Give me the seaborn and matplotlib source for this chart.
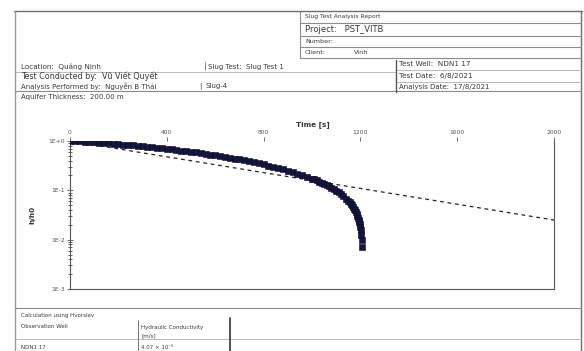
import numpy as np
import matplotlib
matplotlib.use("Agg")
import matplotlib.pyplot as plt
from matplotlib.lines import Line2D
from matplotlib.ticker import FixedLocator, LogLocator, NullFormatter
import seaborn as sns

# Slug test recovery record: elapsed time [s] and normalised head h/h0
time_s = [0, 20, 40, 60, 80, 100, 120, 140, 160, 180, 200, 220, 240, 260, 280,
          300, 320, 340, 360, 380, 400, 420, 440, 460, 480, 500, 520, 540, 560,
          580, 600, 620, 640, 660, 680, 700, 720, 740, 760, 780, 800, 820, 840,
          860, 880, 900, 920, 940, 960, 980, 1000, 1010, 1020, 1030, 1040, 1050,
          1060, 1070, 1080, 1090, 1100, 1110, 1120, 1130, 1140, 1150, 1155, 1160,
          1165, 1170, 1174, 1178, 1182, 1185, 1188, 1191, 1194, 1196, 1198, 1200,
          1202, 1204, 1206, 1208]
head_ratio = [1.0, 0.9886, 0.9772, 0.9638, 0.9506, 0.9376, 0.9226, 0.9078, 0.8933,
              0.8790, 0.8630, 0.8472, 0.8318, 0.8147, 0.7980, 0.7816, 0.7638,
              0.7464, 0.7295, 0.7112, 0.6934, 0.6761, 0.6577, 0.6397, 0.6223,
              0.6039, 0.5861, 0.5675, 0.5495, 0.5309, 0.5129, 0.4943, 0.4764,
              0.4581, 0.4406, 0.4227, 0.4046, 0.3873, 0.3698, 0.3524, 0.3350,
              0.3177, 0.3006, 0.2838, 0.2673, 0.2512, 0.2350, 0.2193, 0.2037,
              0.1884, 0.1734, 0.1660, 0.1585, 0.1510, 0.1435, 0.1361, 0.1285,
              0.1211, 0.1135, 0.1059, 0.0984, 0.0908, 0.0832, 0.0757, 0.0682,
              0.0608, 0.0571, 0.0535, 0.0497, 0.0458, 0.0427, 0.0394, 0.0361,
              0.0334, 0.0307, 0.0278, 0.0248, 0.0226, 0.0204, 0.0180, 0.0154,
              0.0126, 0.0098, 0.0072]

# Hvorslev straight-line fit (end points)
fit_time = [0, 2000]
fit_ratio = [1.0, 0.025]

x_ticks = [0, 400, 800, 1200, 1600, 2000]
x_tick_labels = ["0", "400", "800", "1200", "1600", "2000"]
y_ticks = [1e0, 1e-1, 1e-2, 1e-3]
y_tick_labels = ["1E+0", "1E-1", "1E-2", "1E-3"]

sns.set_style("white")
plt.rcParams["font.family"] = ["DejaVu Sans"]

W, H = 584, 351
fig = plt.figure(figsize=(W / 100, H / 100), dpi=100)
fig.patch.set_facecolor("white")

TXT = "#3a3a3a"
RULE = "#8c8c8c"


def fx(x):
    return x / W


def fy(y):
    return 1 - y / H


def hline(y, x0, x1, lw=0.8, color=RULE):
    fig.add_artist(Line2D([fx(x0), fx(x1)], [fy(y), fy(y)], lw=lw, color=color,
                          transform=fig.transFigure))


def vline(x, y0, y1, lw=0.8, color=RULE):
    fig.add_artist(Line2D([fx(x), fx(x)], [fy(y0), fy(y1)], lw=lw, color=color,
                          transform=fig.transFigure))


def label(x, y, s, size=5.2, weight="normal", color=TXT):
    fig.text(fx(x), fy(y), s, fontsize=size, fontweight=weight, color=color,
             ha="left", va="center")


# ---- report frame ----
hline(11, 14, 582, lw=1.0, color="#6e6e6e")
vline(15, 11, 351, lw=1.0, color="#9a9a9a")
vline(581, 11, 351, lw=1.0, color="#6e6e6e")
vline(300, 11, 58, lw=0.8)
hline(23, 300, 581)
hline(35.5, 300, 581)
hline(47, 300, 581)
hline(58, 300, 581)
hline(72, 15, 396, lw=0.6, color="#b0b0b0")
hline(70, 396, 581, lw=0.6, color="#b0b0b0")
hline(82, 396, 581, lw=0.6, color="#b0b0b0")
hline(91, 15, 581, lw=0.8)
vline(396, 60, 92, lw=1.0, color="#555555")
vline(205, 62, 70, lw=0.6, color="#777777")
hline(308, 15, 581, lw=0.8)
hline(339, 15, 581, lw=0.6, color="#b0b0b0")
vline(138, 320, 351, lw=0.7, color="#777777")
vline(230, 318, 351, lw=1.2, color="#333333")

# ---- header text ----
label(305, 16.5, "Slug Test Analysis Report", size=4.3)
label(305, 29.5, "Project:   PST_VITB", size=6.0)
label(305, 41.5, "Number:", size=4.6)
label(305, 53, "Client:", size=4.6)
label(354, 53, "Vinh", size=4.6)
label(21, 66.5, "Location:  Quảng Ninh", size=5.2)
label(208, 66.5, "Slug Test:  Slug Test 1", size=5.0)
label(399, 64, "Test Well:  NDN1 17", size=5.2)
label(21, 76.5, "Test Conducted by:  Vũ Viết Quyết", size=5.8)
label(399, 76, "Test Date:  6/8/2021", size=5.2)
label(21, 86, "Analysis Performed by:  Nguyễn B Thái", size=5.0)
label(199, 86, "|", size=5.0)
label(206, 86, "Slug-4", size=5.0)
label(399, 86.5, "Analysis Date:  17/8/2021", size=5.0)
label(21, 97, "Aquifer Thickness:  200.00 m", size=5.0)

# ---- results table ----
label(21, 316, "Calculation using Hvorslev", size=4.0)
label(21, 327, "Observation Well", size=4.0)
label(141, 327, "Hydraulic Conductivity", size=4.0)
label(141, 336, "[m/s]", size=4.0)
label(21, 347.5, "NDN1 17", size=4.0)
label(141, 347.5, "4.07 × 10⁻⁵", size=4.0)

# ---- chart ----
ax_l, ax_r, ax_t, ax_b = 70, 554, 141, 289
ax = fig.add_axes([fx(ax_l), fy(ax_b), (ax_r - ax_l) / W, (ax_b - ax_t) / H])
ax.set_facecolor("white")

sns.lineplot(x=fit_time, y=fit_ratio, ax=ax, color="#222222", lw=0.9,
             ls=(0, (3.0, 3.0)), zorder=2)
sns.scatterplot(x=time_s, y=head_ratio, ax=ax, marker="s", s=17,
                color="#15153f", edgecolor="#0a0a26", linewidth=0.4, zorder=3)

ax.set_yscale("log")
ax.set_xlim(0, 2000)
ax.set_ylim(1e-3, 1e0)

ax.xaxis.tick_top()
ax.xaxis.set_label_position("top")
ax.xaxis.set_major_locator(FixedLocator(x_ticks))
ax.set_xticklabels(x_tick_labels)
ax.tick_params(axis="x", which="major", direction="out", length=3, width=0.6,
               pad=1.5, labelsize=4.3, colors="#555555")
ax.set_xlabel("Time [s]", fontsize=5.2, fontweight="bold", color="#333333",
              labelpad=0)
ax.xaxis.set_label_coords((313 - ax_l) / (ax_r - ax_l), 1 + (ax_t - 125) / (ax_b - ax_t))
ax.xaxis.label.set_va("center")

ax.yaxis.set_major_locator(FixedLocator(y_ticks))
ax.set_yticklabels(y_tick_labels)
ax.yaxis.set_minor_locator(LogLocator(base=10, subs=np.arange(2, 10)))
ax.yaxis.set_minor_formatter(NullFormatter())
ax.tick_params(axis="y", which="major", direction="inout", length=4, width=0.6,
               pad=2, labelsize=4.3, colors="#555555", left=True)
ax.tick_params(axis="y", which="minor", direction="inout", length=2.5, width=0.5,
               left=True)
ax.set_ylabel("h/h0", fontsize=5.2, fontweight="bold", color="#333333")
ax.yaxis.set_label_coords(-(ax_l - 35) / (ax_r - ax_l), 0.5)

for side in ["left", "bottom", "right"]:
    ax.spines[side].set_visible(True)
    ax.spines[side].set_color("#555555")
    ax.spines[side].set_linewidth(0.8)
ax.spines["top"].set_visible(False)
ax.grid(False)

fig.savefig("out.png", dpi=100, facecolor="white")
